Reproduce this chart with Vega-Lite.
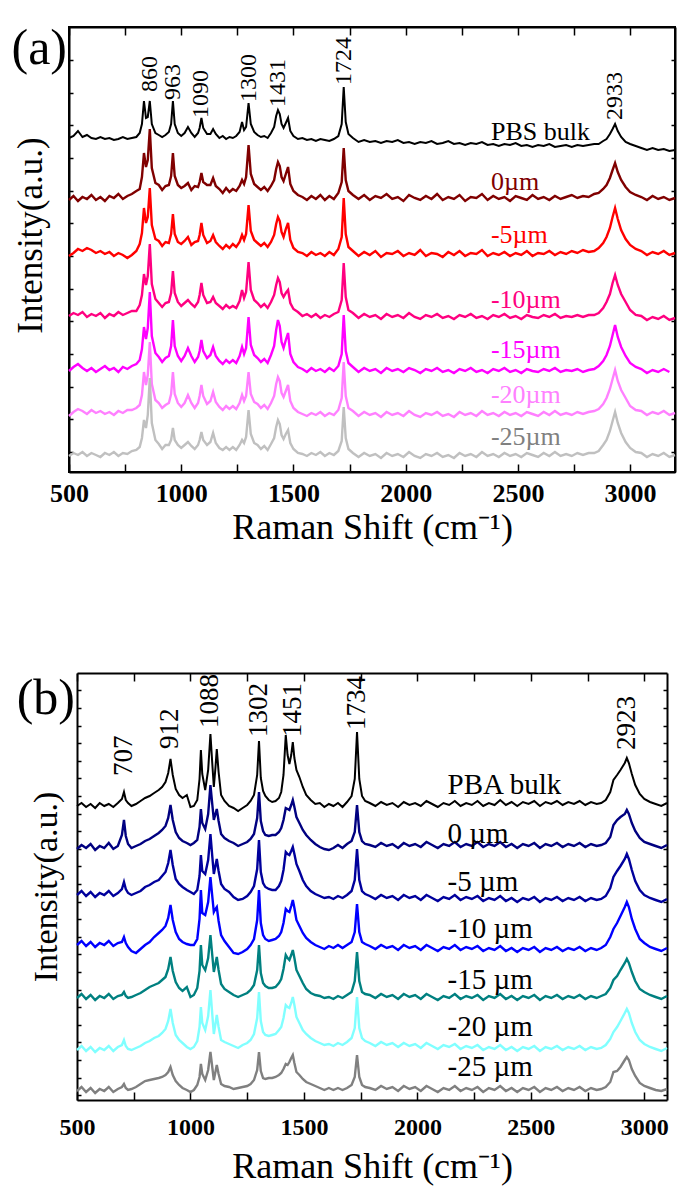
{
"$schema":"https://vega.github.io/schema/vega-lite/v6.json",
"background":"white",
"padding":{"left":10,"top":22,"right":2,"bottom":2},
"config":{
"font":"Liberation Serif",
"view":{"stroke":null},
"axis":{"domainColor":"#000","domainWidth":2,"tickColor":"#000","tickWidth":1.5,"labelColor":"#000","titleColor":"#000","titleFontWeight":"normal","labelFont":"Liberation Serif","titleFont":"Liberation Serif","grid":false},
"line":{"strokeWidth":2.4},
"text":{"font":"Liberation Serif"}
},
"spacing":126,
"datasets":{
"a0":[{"x":500,"y":334},{"x":520,"y":336},{"x":540,"y":341},{"x":560,"y":335},{"x":580,"y":337},{"x":600,"y":334},{"x":620,"y":333},{"x":640,"y":335},{"x":660,"y":333},{"x":680,"y":334},{"x":700,"y":332},{"x":720,"y":333},{"x":740,"y":335},{"x":760,"y":333},{"x":780,"y":334},{"x":800,"y":335},{"x":815,"y":339},{"x":825,"y":348},{"x":834,"y":371},{"x":843,"y":354},{"x":851,"y":355},{"x":860,"y":371},{"x":869,"y":348},{"x":885,"y":339},{"x":900,"y":337},{"x":915,"y":335},{"x":930,"y":337},{"x":945,"y":340},{"x":955,"y":348},{"x":963,"y":371},{"x":971,"y":348},{"x":985,"y":339},{"x":1000,"y":336},{"x":1015,"y":339},{"x":1030,"y":345},{"x":1045,"y":339},{"x":1060,"y":335},{"x":1075,"y":339},{"x":1082,"y":344},{"x":1090,"y":354},{"x":1098,"y":344},{"x":1115,"y":338},{"x":1130,"y":338},{"x":1142,"y":343},{"x":1154,"y":338},{"x":1170,"y":334},{"x":1185,"y":336},{"x":1200,"y":333},{"x":1215,"y":335},{"x":1230,"y":334},{"x":1245,"y":336},{"x":1260,"y":340},{"x":1271,"y":350},{"x":1280,"y":342},{"x":1289,"y":345},{"x":1300,"y":369},{"x":1310,"y":348},{"x":1325,"y":340},{"x":1340,"y":337},{"x":1355,"y":335},{"x":1370,"y":336},{"x":1385,"y":334},{"x":1400,"y":339},{"x":1414,"y":345},{"x":1423,"y":356},{"x":1431,"y":362},{"x":1439,"y":358},{"x":1447,"y":348},{"x":1456,"y":344},{"x":1466,"y":349},{"x":1476,"y":354},{"x":1486,"y":341},{"x":1500,"y":336},{"x":1520,"y":333},{"x":1540,"y":334},{"x":1560,"y":332},{"x":1580,"y":333},{"x":1600,"y":331},{"x":1620,"y":333},{"x":1640,"y":332},{"x":1660,"y":331},{"x":1680,"y":333},{"x":1700,"y":336},{"x":1715,"y":348},{"x":1724,"y":385},{"x":1733,"y":350},{"x":1745,"y":338},{"x":1765,"y":334},{"x":1790,"y":330},{"x":1815,"y":332},{"x":1840,"y":330},{"x":1865,"y":331},{"x":1890,"y":329},{"x":1915,"y":331},{"x":1940,"y":330},{"x":1965,"y":332},{"x":1990,"y":329},{"x":2015,"y":330},{"x":2040,"y":328},{"x":2065,"y":330},{"x":2090,"y":329},{"x":2115,"y":331},{"x":2140,"y":328},{"x":2165,"y":329},{"x":2190,"y":331},{"x":2215,"y":328},{"x":2240,"y":329},{"x":2265,"y":327},{"x":2290,"y":329},{"x":2315,"y":328},{"x":2340,"y":330},{"x":2365,"y":327},{"x":2390,"y":328},{"x":2415,"y":326},{"x":2440,"y":328},{"x":2465,"y":327},{"x":2490,"y":329},{"x":2515,"y":326},{"x":2540,"y":327},{"x":2565,"y":325},{"x":2590,"y":327},{"x":2615,"y":326},{"x":2640,"y":328},{"x":2665,"y":325},{"x":2690,"y":326},{"x":2715,"y":327},{"x":2740,"y":325},{"x":2765,"y":327},{"x":2790,"y":326},{"x":2815,"y":327},{"x":2840,"y":328},{"x":2860,"y":328},{"x":2880,"y":331},{"x":2895,"y":333},{"x":2910,"y":338},{"x":2922,"y":343},{"x":2933,"y":348},{"x":2945,"y":341},{"x":2960,"y":335},{"x":2980,"y":330},{"x":3000,"y":328},{"x":3025,"y":326},{"x":3050,"y":324},{"x":3075,"y":322},{"x":3100,"y":324},{"x":3125,"y":322},{"x":3150,"y":323},{"x":3175,"y":321},{"x":3200,"y":322}],
"a1":[{"x":500,"y":272},{"x":520,"y":276},{"x":540,"y":271},{"x":560,"y":275},{"x":580,"y":273},{"x":600,"y":277},{"x":620,"y":272},{"x":640,"y":275},{"x":660,"y":271},{"x":680,"y":276},{"x":700,"y":274},{"x":720,"y":278},{"x":740,"y":273},{"x":760,"y":276},{"x":780,"y":278},{"x":800,"y":281},{"x":815,"y":283},{"x":825,"y":295},{"x":834,"y":319},{"x":843,"y":305},{"x":851,"y":312},{"x":860,"y":343},{"x":869,"y":304},{"x":885,"y":289},{"x":900,"y":287},{"x":915,"y":282},{"x":930,"y":286},{"x":945,"y":287},{"x":955,"y":296},{"x":963,"y":319},{"x":971,"y":296},{"x":985,"y":287},{"x":1000,"y":284},{"x":1015,"y":286},{"x":1030,"y":289},{"x":1045,"y":282},{"x":1060,"y":286},{"x":1075,"y":285},{"x":1082,"y":290},{"x":1090,"y":299},{"x":1098,"y":290},{"x":1115,"y":287},{"x":1130,"y":287},{"x":1142,"y":294},{"x":1154,"y":286},{"x":1170,"y":283},{"x":1185,"y":279},{"x":1200,"y":284},{"x":1215,"y":280},{"x":1230,"y":283},{"x":1245,"y":281},{"x":1260,"y":286},{"x":1271,"y":292},{"x":1280,"y":288},{"x":1289,"y":295},{"x":1300,"y":327},{"x":1310,"y":298},{"x":1325,"y":288},{"x":1340,"y":285},{"x":1355,"y":282},{"x":1370,"y":285},{"x":1385,"y":281},{"x":1400,"y":286},{"x":1414,"y":292},{"x":1423,"y":303},{"x":1431,"y":310},{"x":1439,"y":306},{"x":1447,"y":295},{"x":1456,"y":291},{"x":1466,"y":298},{"x":1476,"y":305},{"x":1486,"y":288},{"x":1500,"y":281},{"x":1520,"y":277},{"x":1540,"y":275},{"x":1560,"y":272},{"x":1580,"y":276},{"x":1600,"y":273},{"x":1620,"y":277},{"x":1640,"y":272},{"x":1660,"y":276},{"x":1680,"y":273},{"x":1700,"y":279},{"x":1715,"y":290},{"x":1724,"y":324},{"x":1733,"y":292},{"x":1745,"y":281},{"x":1765,"y":277},{"x":1790,"y":273},{"x":1815,"y":277},{"x":1840,"y":272},{"x":1865,"y":276},{"x":1890,"y":274},{"x":1915,"y":278},{"x":1940,"y":273},{"x":1965,"y":275},{"x":1990,"y":271},{"x":2015,"y":277},{"x":2040,"y":274},{"x":2065,"y":272},{"x":2090,"y":276},{"x":2115,"y":273},{"x":2140,"y":278},{"x":2165,"y":272},{"x":2190,"y":275},{"x":2215,"y":273},{"x":2240,"y":277},{"x":2265,"y":271},{"x":2290,"y":275},{"x":2315,"y":274},{"x":2340,"y":278},{"x":2365,"y":272},{"x":2390,"y":276},{"x":2415,"y":273},{"x":2440,"y":275},{"x":2465,"y":271},{"x":2490,"y":276},{"x":2515,"y":274},{"x":2540,"y":272},{"x":2565,"y":277},{"x":2590,"y":273},{"x":2615,"y":275},{"x":2640,"y":272},{"x":2665,"y":276},{"x":2690,"y":273},{"x":2715,"y":275},{"x":2740,"y":277},{"x":2765,"y":274},{"x":2790,"y":276},{"x":2815,"y":275},{"x":2840,"y":278},{"x":2860,"y":279},{"x":2880,"y":283},{"x":2895,"y":287},{"x":2910,"y":294},{"x":2922,"y":302},{"x":2933,"y":309},{"x":2945,"y":300},{"x":2960,"y":292},{"x":2980,"y":285},{"x":3000,"y":280},{"x":3025,"y":277},{"x":3050,"y":275},{"x":3075,"y":272},{"x":3100,"y":276},{"x":3125,"y":273},{"x":3150,"y":275},{"x":3175,"y":272},{"x":3200,"y":274}],
"a2":[{"x":500,"y":216},{"x":520,"y":219},{"x":540,"y":223},{"x":560,"y":221},{"x":580,"y":224},{"x":600,"y":222},{"x":620,"y":219},{"x":640,"y":221},{"x":660,"y":218},{"x":680,"y":220},{"x":700,"y":216},{"x":720,"y":219},{"x":740,"y":217},{"x":760,"y":214},{"x":780,"y":217},{"x":800,"y":221},{"x":815,"y":228},{"x":825,"y":239},{"x":834,"y":264},{"x":843,"y":249},{"x":851,"y":255},{"x":860,"y":284},{"x":869,"y":247},{"x":885,"y":233},{"x":900,"y":231},{"x":915,"y":226},{"x":930,"y":230},{"x":945,"y":229},{"x":955,"y":238},{"x":963,"y":258},{"x":971,"y":238},{"x":985,"y":230},{"x":1000,"y":228},{"x":1015,"y":231},{"x":1030,"y":235},{"x":1045,"y":227},{"x":1060,"y":230},{"x":1075,"y":231},{"x":1082,"y":237},{"x":1090,"y":249},{"x":1098,"y":237},{"x":1115,"y":229},{"x":1130,"y":231},{"x":1142,"y":237},{"x":1154,"y":230},{"x":1170,"y":226},{"x":1185,"y":223},{"x":1200,"y":227},{"x":1215,"y":224},{"x":1230,"y":228},{"x":1245,"y":225},{"x":1260,"y":230},{"x":1271,"y":237},{"x":1280,"y":232},{"x":1289,"y":238},{"x":1300,"y":267},{"x":1310,"y":241},{"x":1325,"y":232},{"x":1340,"y":229},{"x":1355,"y":226},{"x":1370,"y":229},{"x":1385,"y":225},{"x":1400,"y":230},{"x":1414,"y":237},{"x":1423,"y":248},{"x":1431,"y":255},{"x":1439,"y":251},{"x":1447,"y":240},{"x":1456,"y":235},{"x":1466,"y":243},{"x":1476,"y":249},{"x":1486,"y":232},{"x":1500,"y":224},{"x":1520,"y":220},{"x":1540,"y":219},{"x":1560,"y":216},{"x":1580,"y":220},{"x":1600,"y":217},{"x":1620,"y":219},{"x":1640,"y":216},{"x":1660,"y":220},{"x":1680,"y":217},{"x":1700,"y":223},{"x":1715,"y":235},{"x":1724,"y":274},{"x":1733,"y":238},{"x":1745,"y":225},{"x":1765,"y":221},{"x":1790,"y":216},{"x":1815,"y":220},{"x":1840,"y":217},{"x":1865,"y":221},{"x":1890,"y":215},{"x":1915,"y":219},{"x":1940,"y":218},{"x":1965,"y":221},{"x":1990,"y":216},{"x":2015,"y":219},{"x":2040,"y":217},{"x":2065,"y":222},{"x":2090,"y":216},{"x":2115,"y":219},{"x":2140,"y":218},{"x":2165,"y":215},{"x":2190,"y":220},{"x":2215,"y":217},{"x":2240,"y":221},{"x":2265,"y":216},{"x":2290,"y":219},{"x":2315,"y":218},{"x":2340,"y":222},{"x":2365,"y":216},{"x":2390,"y":219},{"x":2415,"y":217},{"x":2440,"y":220},{"x":2465,"y":216},{"x":2490,"y":219},{"x":2515,"y":217},{"x":2540,"y":221},{"x":2565,"y":216},{"x":2590,"y":219},{"x":2615,"y":218},{"x":2640,"y":221},{"x":2665,"y":217},{"x":2690,"y":220},{"x":2715,"y":218},{"x":2740,"y":221},{"x":2765,"y":219},{"x":2790,"y":222},{"x":2815,"y":220},{"x":2840,"y":221},{"x":2860,"y":224},{"x":2880,"y":229},{"x":2895,"y":235},{"x":2910,"y":244},{"x":2922,"y":255},{"x":2933,"y":264},{"x":2945,"y":253},{"x":2960,"y":242},{"x":2980,"y":233},{"x":3000,"y":227},{"x":3025,"y":223},{"x":3050,"y":221},{"x":3075,"y":217},{"x":3100,"y":220},{"x":3125,"y":218},{"x":3150,"y":221},{"x":3175,"y":217},{"x":3200,"y":219}],
"a3":[{"x":500,"y":156},{"x":520,"y":159},{"x":540,"y":157},{"x":560,"y":160},{"x":580,"y":155},{"x":600,"y":158},{"x":620,"y":156},{"x":640,"y":159},{"x":660,"y":154},{"x":680,"y":158},{"x":700,"y":156},{"x":720,"y":160},{"x":740,"y":157},{"x":760,"y":159},{"x":780,"y":161},{"x":800,"y":161},{"x":815,"y":167},{"x":825,"y":177},{"x":834,"y":198},{"x":843,"y":187},{"x":851,"y":196},{"x":860,"y":228},{"x":869,"y":188},{"x":885,"y":173},{"x":900,"y":169},{"x":915,"y":165},{"x":930,"y":169},{"x":945,"y":170},{"x":955,"y":179},{"x":963,"y":201},{"x":971,"y":179},{"x":985,"y":170},{"x":1000,"y":166},{"x":1015,"y":169},{"x":1030,"y":172},{"x":1045,"y":168},{"x":1060,"y":165},{"x":1075,"y":170},{"x":1082,"y":177},{"x":1090,"y":189},{"x":1098,"y":177},{"x":1115,"y":169},{"x":1130,"y":170},{"x":1142,"y":175},{"x":1154,"y":169},{"x":1170,"y":166},{"x":1185,"y":163},{"x":1200,"y":167},{"x":1215,"y":164},{"x":1230,"y":166},{"x":1245,"y":164},{"x":1260,"y":171},{"x":1271,"y":182},{"x":1280,"y":174},{"x":1289,"y":180},{"x":1300,"y":210},{"x":1310,"y":182},{"x":1325,"y":172},{"x":1340,"y":169},{"x":1355,"y":165},{"x":1370,"y":168},{"x":1385,"y":164},{"x":1400,"y":170},{"x":1414,"y":177},{"x":1423,"y":187},{"x":1431,"y":194},{"x":1439,"y":190},{"x":1447,"y":179},{"x":1456,"y":175},{"x":1466,"y":179},{"x":1476,"y":182},{"x":1486,"y":169},{"x":1500,"y":163},{"x":1520,"y":160},{"x":1540,"y":156},{"x":1560,"y":158},{"x":1580,"y":155},{"x":1600,"y":158},{"x":1620,"y":154},{"x":1640,"y":157},{"x":1660,"y":155},{"x":1680,"y":158},{"x":1700,"y":160},{"x":1715,"y":172},{"x":1724,"y":209},{"x":1733,"y":175},{"x":1745,"y":162},{"x":1765,"y":159},{"x":1790,"y":154},{"x":1815,"y":158},{"x":1840,"y":155},{"x":1865,"y":157},{"x":1890,"y":153},{"x":1915,"y":158},{"x":1940,"y":155},{"x":1965,"y":157},{"x":1990,"y":154},{"x":2015,"y":159},{"x":2040,"y":155},{"x":2065,"y":153},{"x":2090,"y":157},{"x":2115,"y":155},{"x":2140,"y":158},{"x":2165,"y":154},{"x":2190,"y":156},{"x":2215,"y":153},{"x":2240,"y":157},{"x":2265,"y":155},{"x":2290,"y":158},{"x":2315,"y":154},{"x":2340,"y":156},{"x":2365,"y":153},{"x":2390,"y":157},{"x":2415,"y":155},{"x":2440,"y":158},{"x":2465,"y":154},{"x":2490,"y":156},{"x":2515,"y":153},{"x":2540,"y":157},{"x":2565,"y":155},{"x":2590,"y":154},{"x":2615,"y":157},{"x":2640,"y":155},{"x":2665,"y":158},{"x":2690,"y":154},{"x":2715,"y":156},{"x":2740,"y":155},{"x":2765,"y":157},{"x":2790,"y":155},{"x":2815,"y":157},{"x":2840,"y":157},{"x":2860,"y":159},{"x":2880,"y":164},{"x":2895,"y":170},{"x":2910,"y":178},{"x":2922,"y":189},{"x":2933,"y":197},{"x":2945,"y":187},{"x":2960,"y":178},{"x":2980,"y":170},{"x":3000,"y":162},{"x":3025,"y":157},{"x":3050,"y":156},{"x":3075,"y":152},{"x":3100,"y":155},{"x":3125,"y":153},{"x":3150,"y":156},{"x":3175,"y":152},{"x":3200,"y":154}],
"a4":[{"x":500,"y":101},{"x":520,"y":105},{"x":540,"y":108},{"x":560,"y":104},{"x":580,"y":101},{"x":600,"y":104},{"x":620,"y":100},{"x":640,"y":103},{"x":660,"y":106},{"x":680,"y":102},{"x":700,"y":104},{"x":720,"y":100},{"x":740,"y":105},{"x":760,"y":103},{"x":780,"y":106},{"x":800,"y":108},{"x":815,"y":112},{"x":825,"y":123},{"x":834,"y":145},{"x":843,"y":133},{"x":851,"y":144},{"x":860,"y":180},{"x":869,"y":136},{"x":885,"y":119},{"x":900,"y":115},{"x":915,"y":110},{"x":930,"y":114},{"x":945,"y":116},{"x":955,"y":126},{"x":963,"y":152},{"x":971,"y":126},{"x":985,"y":116},{"x":1000,"y":111},{"x":1015,"y":116},{"x":1030,"y":124},{"x":1045,"y":116},{"x":1060,"y":110},{"x":1075,"y":115},{"x":1082,"y":121},{"x":1090,"y":132},{"x":1098,"y":121},{"x":1115,"y":114},{"x":1130,"y":117},{"x":1142,"y":125},{"x":1154,"y":116},{"x":1170,"y":111},{"x":1185,"y":108},{"x":1200,"y":112},{"x":1215,"y":109},{"x":1230,"y":112},{"x":1245,"y":109},{"x":1260,"y":116},{"x":1271,"y":125},{"x":1280,"y":118},{"x":1289,"y":124},{"x":1300,"y":155},{"x":1310,"y":127},{"x":1325,"y":117},{"x":1340,"y":114},{"x":1355,"y":110},{"x":1370,"y":113},{"x":1385,"y":109},{"x":1400,"y":117},{"x":1414,"y":126},{"x":1423,"y":142},{"x":1431,"y":152},{"x":1439,"y":146},{"x":1447,"y":130},{"x":1456,"y":124},{"x":1466,"y":132},{"x":1476,"y":139},{"x":1486,"y":118},{"x":1500,"y":110},{"x":1520,"y":105},{"x":1540,"y":103},{"x":1560,"y":100},{"x":1580,"y":104},{"x":1600,"y":101},{"x":1620,"y":103},{"x":1640,"y":100},{"x":1660,"y":104},{"x":1680,"y":101},{"x":1700,"y":106},{"x":1715,"y":118},{"x":1724,"y":157},{"x":1733,"y":121},{"x":1745,"y":109},{"x":1765,"y":105},{"x":1790,"y":100},{"x":1815,"y":104},{"x":1840,"y":101},{"x":1865,"y":103},{"x":1890,"y":99},{"x":1915,"y":104},{"x":1940,"y":101},{"x":1965,"y":103},{"x":1990,"y":100},{"x":2015,"y":104},{"x":2040,"y":102},{"x":2065,"y":99},{"x":2090,"y":103},{"x":2115,"y":101},{"x":2140,"y":104},{"x":2165,"y":100},{"x":2190,"y":102},{"x":2215,"y":99},{"x":2240,"y":103},{"x":2265,"y":101},{"x":2290,"y":104},{"x":2315,"y":100},{"x":2340,"y":102},{"x":2365,"y":99},{"x":2390,"y":103},{"x":2415,"y":101},{"x":2440,"y":104},{"x":2465,"y":100},{"x":2490,"y":102},{"x":2515,"y":99},{"x":2540,"y":103},{"x":2565,"y":101},{"x":2590,"y":100},{"x":2615,"y":103},{"x":2640,"y":101},{"x":2665,"y":104},{"x":2690,"y":100},{"x":2715,"y":102},{"x":2740,"y":101},{"x":2765,"y":103},{"x":2790,"y":100},{"x":2815,"y":102},{"x":2840,"y":103},{"x":2860,"y":106},{"x":2880,"y":111},{"x":2895,"y":117},{"x":2910,"y":126},{"x":2922,"y":137},{"x":2933,"y":147},{"x":2945,"y":135},{"x":2960,"y":125},{"x":2980,"y":116},{"x":3000,"y":109},{"x":3025,"y":105},{"x":3050,"y":103},{"x":3075,"y":99},{"x":3100,"y":102},{"x":3125,"y":100},{"x":3150,"y":103},{"x":3175,"y":100}],
"a5":[{"x":500,"y":56},{"x":520,"y":60},{"x":540,"y":63},{"x":560,"y":61},{"x":580,"y":58},{"x":600,"y":62},{"x":620,"y":59},{"x":640,"y":61},{"x":660,"y":58},{"x":680,"y":60},{"x":700,"y":57},{"x":720,"y":61},{"x":740,"y":59},{"x":760,"y":62},{"x":780,"y":62},{"x":800,"y":64},{"x":815,"y":67},{"x":825,"y":77},{"x":834,"y":100},{"x":843,"y":87},{"x":851,"y":97},{"x":860,"y":130},{"x":869,"y":88},{"x":885,"y":72},{"x":900,"y":69},{"x":915,"y":64},{"x":930,"y":67},{"x":945,"y":69},{"x":955,"y":78},{"x":963,"y":100},{"x":971,"y":78},{"x":985,"y":69},{"x":1000,"y":65},{"x":1015,"y":69},{"x":1030,"y":77},{"x":1045,"y":69},{"x":1060,"y":64},{"x":1075,"y":69},{"x":1082,"y":76},{"x":1090,"y":87},{"x":1098,"y":76},{"x":1115,"y":68},{"x":1130,"y":71},{"x":1142,"y":80},{"x":1154,"y":70},{"x":1170,"y":65},{"x":1185,"y":62},{"x":1200,"y":66},{"x":1215,"y":63},{"x":1230,"y":66},{"x":1245,"y":63},{"x":1260,"y":69},{"x":1271,"y":77},{"x":1280,"y":71},{"x":1289,"y":76},{"x":1300,"y":100},{"x":1310,"y":78},{"x":1325,"y":70},{"x":1340,"y":68},{"x":1355,"y":64},{"x":1370,"y":67},{"x":1385,"y":63},{"x":1400,"y":69},{"x":1414,"y":76},{"x":1423,"y":88},{"x":1431,"y":95},{"x":1439,"y":91},{"x":1447,"y":79},{"x":1456,"y":75},{"x":1466,"y":81},{"x":1476,"y":87},{"x":1486,"y":71},{"x":1500,"y":64},{"x":1520,"y":60},{"x":1540,"y":58},{"x":1560,"y":56},{"x":1580,"y":59},{"x":1600,"y":57},{"x":1620,"y":60},{"x":1640,"y":56},{"x":1660,"y":59},{"x":1680,"y":57},{"x":1700,"y":62},{"x":1715,"y":74},{"x":1724,"y":110},{"x":1733,"y":76},{"x":1745,"y":64},{"x":1765,"y":61},{"x":1790,"y":56},{"x":1815,"y":60},{"x":1840,"y":57},{"x":1865,"y":59},{"x":1890,"y":55},{"x":1915,"y":60},{"x":1940,"y":57},{"x":1965,"y":59},{"x":1990,"y":56},{"x":2015,"y":61},{"x":2040,"y":57},{"x":2065,"y":55},{"x":2090,"y":59},{"x":2115,"y":57},{"x":2140,"y":60},{"x":2165,"y":56},{"x":2190,"y":58},{"x":2215,"y":55},{"x":2240,"y":60},{"x":2265,"y":57},{"x":2290,"y":59},{"x":2315,"y":56},{"x":2340,"y":61},{"x":2365,"y":57},{"x":2390,"y":59},{"x":2415,"y":56},{"x":2440,"y":60},{"x":2465,"y":57},{"x":2490,"y":59},{"x":2515,"y":56},{"x":2540,"y":60},{"x":2565,"y":58},{"x":2590,"y":56},{"x":2615,"y":60},{"x":2640,"y":57},{"x":2665,"y":61},{"x":2690,"y":57},{"x":2715,"y":59},{"x":2740,"y":57},{"x":2765,"y":60},{"x":2790,"y":58},{"x":2815,"y":60},{"x":2840,"y":61},{"x":2860,"y":63},{"x":2880,"y":68},{"x":2895,"y":74},{"x":2910,"y":83},{"x":2922,"y":93},{"x":2933,"y":102},{"x":2945,"y":91},{"x":2960,"y":82},{"x":2980,"y":74},{"x":3000,"y":66},{"x":3025,"y":62},{"x":3050,"y":61},{"x":3075,"y":57},{"x":3100,"y":60},{"x":3125,"y":58},{"x":3150,"y":61},{"x":3175,"y":57},{"x":3200,"y":59}],
"a6":[{"x":500,"y":16},{"x":520,"y":19},{"x":540,"y":17},{"x":560,"y":20},{"x":580,"y":16},{"x":600,"y":19},{"x":620,"y":17},{"x":640,"y":15},{"x":660,"y":19},{"x":680,"y":17},{"x":700,"y":20},{"x":720,"y":16},{"x":740,"y":19},{"x":760,"y":18},{"x":780,"y":21},{"x":800,"y":22},{"x":815,"y":25},{"x":825,"y":34},{"x":834,"y":52},{"x":843,"y":44},{"x":851,"y":57},{"x":860,"y":94},{"x":869,"y":49},{"x":885,"y":32},{"x":900,"y":28},{"x":915,"y":23},{"x":930,"y":27},{"x":945,"y":27},{"x":955,"y":32},{"x":963,"y":44},{"x":971,"y":32},{"x":985,"y":27},{"x":1000,"y":24},{"x":1015,"y":27},{"x":1030,"y":30},{"x":1045,"y":26},{"x":1060,"y":23},{"x":1075,"y":27},{"x":1082,"y":32},{"x":1090,"y":40},{"x":1098,"y":32},{"x":1115,"y":27},{"x":1130,"y":30},{"x":1142,"y":39},{"x":1154,"y":29},{"x":1170,"y":24},{"x":1185,"y":22},{"x":1200,"y":25},{"x":1215,"y":22},{"x":1230,"y":25},{"x":1245,"y":22},{"x":1260,"y":27},{"x":1271,"y":32},{"x":1280,"y":29},{"x":1289,"y":35},{"x":1300,"y":62},{"x":1310,"y":38},{"x":1325,"y":29},{"x":1340,"y":27},{"x":1355,"y":23},{"x":1370,"y":26},{"x":1385,"y":22},{"x":1400,"y":28},{"x":1414,"y":34},{"x":1423,"y":45},{"x":1431,"y":52},{"x":1439,"y":48},{"x":1447,"y":37},{"x":1456,"y":33},{"x":1466,"y":38},{"x":1476,"y":42},{"x":1486,"y":29},{"x":1500,"y":23},{"x":1520,"y":19},{"x":1540,"y":18},{"x":1560,"y":16},{"x":1580,"y":19},{"x":1600,"y":17},{"x":1620,"y":20},{"x":1640,"y":16},{"x":1660,"y":19},{"x":1680,"y":17},{"x":1700,"y":21},{"x":1715,"y":31},{"x":1724,"y":65},{"x":1733,"y":34},{"x":1745,"y":23},{"x":1765,"y":19},{"x":1790,"y":15},{"x":1815,"y":19},{"x":1840,"y":16},{"x":1865,"y":18},{"x":1890,"y":14},{"x":1915,"y":19},{"x":1940,"y":16},{"x":1965,"y":18},{"x":1990,"y":15},{"x":2015,"y":20},{"x":2040,"y":16},{"x":2065,"y":14},{"x":2090,"y":18},{"x":2115,"y":16},{"x":2140,"y":19},{"x":2165,"y":15},{"x":2190,"y":17},{"x":2215,"y":14},{"x":2240,"y":19},{"x":2265,"y":16},{"x":2290,"y":18},{"x":2315,"y":15},{"x":2340,"y":20},{"x":2365,"y":16},{"x":2390,"y":18},{"x":2415,"y":15},{"x":2440,"y":19},{"x":2465,"y":16},{"x":2490,"y":18},{"x":2515,"y":15},{"x":2540,"y":19},{"x":2565,"y":17},{"x":2590,"y":15},{"x":2615,"y":19},{"x":2640,"y":16},{"x":2665,"y":20},{"x":2690,"y":16},{"x":2715,"y":18},{"x":2740,"y":16},{"x":2765,"y":19},{"x":2790,"y":17},{"x":2815,"y":19},{"x":2840,"y":19},{"x":2860,"y":21},{"x":2880,"y":27},{"x":2895,"y":32},{"x":2910,"y":41},{"x":2922,"y":51},{"x":2933,"y":60},{"x":2945,"y":49},{"x":2960,"y":39},{"x":2980,"y":30},{"x":3000,"y":24},{"x":3025,"y":20},{"x":3050,"y":19},{"x":3075,"y":15},{"x":3100,"y":18},{"x":3125,"y":16},{"x":3150,"y":19},{"x":3175,"y":15},{"x":3200,"y":17}],
"b0":[{"x":500,"y":294},{"x":520,"y":297},{"x":540,"y":293},{"x":560,"y":296},{"x":580,"y":292},{"x":600,"y":297},{"x":620,"y":294},{"x":640,"y":296},{"x":660,"y":293},{"x":680,"y":297},{"x":698,"y":301},{"x":707,"y":308},{"x":715,"y":300},{"x":725,"y":297},{"x":740,"y":294},{"x":760,"y":296},{"x":780,"y":299},{"x":800,"y":302},{"x":820,"y":304},{"x":840,"y":307},{"x":860,"y":310},{"x":875,"y":313},{"x":890,"y":318},{"x":902,"y":327},{"x":912,"y":341},{"x":922,"y":325},{"x":935,"y":311},{"x":950,"y":305},{"x":965,"y":302},{"x":984,"y":305},{"x":1000,"y":293},{"x":1015,"y":294},{"x":1030,"y":300},{"x":1040,"y":321},{"x":1046,"y":350},{"x":1052,"y":326},{"x":1065,"y":310},{"x":1078,"y":330},{"x":1088,"y":366},{"x":1096,"y":337},{"x":1103,"y":313},{"x":1110,"y":332},{"x":1116,"y":351},{"x":1124,"y":328},{"x":1135,"y":305},{"x":1150,"y":299},{"x":1170,"y":294},{"x":1190,"y":292},{"x":1210,"y":289},{"x":1230,"y":292},{"x":1250,"y":295},{"x":1265,"y":299},{"x":1280,"y":305},{"x":1294,"y":325},{"x":1302,"y":359},{"x":1310,"y":322},{"x":1320,"y":309},{"x":1330,"y":304},{"x":1345,"y":300},{"x":1360,"y":298},{"x":1375,"y":299},{"x":1390,"y":302},{"x":1400,"y":308},{"x":1410,"y":325},{"x":1420,"y":365},{"x":1428,"y":345},{"x":1436,"y":336},{"x":1444,"y":345},{"x":1451,"y":358},{"x":1458,"y":342},{"x":1467,"y":330},{"x":1480,"y":323},{"x":1495,"y":313},{"x":1510,"y":305},{"x":1530,"y":300},{"x":1550,"y":296},{"x":1570,"y":297},{"x":1590,"y":293},{"x":1610,"y":296},{"x":1630,"y":294},{"x":1650,"y":297},{"x":1670,"y":293},{"x":1690,"y":298},{"x":1710,"y":304},{"x":1724,"y":321},{"x":1734,"y":368},{"x":1744,"y":321},{"x":1756,"y":304},{"x":1770,"y":299},{"x":1790,"y":297},{"x":1815,"y":294},{"x":1840,"y":298},{"x":1865,"y":295},{"x":1890,"y":297},{"x":1915,"y":293},{"x":1940,"y":298},{"x":1965,"y":295},{"x":1990,"y":297},{"x":2015,"y":294},{"x":2040,"y":299},{"x":2065,"y":296},{"x":2090,"y":293},{"x":2115,"y":297},{"x":2140,"y":295},{"x":2165,"y":299},{"x":2190,"y":294},{"x":2215,"y":297},{"x":2240,"y":295},{"x":2265,"y":299},{"x":2290,"y":294},{"x":2315,"y":297},{"x":2340,"y":295},{"x":2365,"y":300},{"x":2390,"y":295},{"x":2415,"y":298},{"x":2440,"y":294},{"x":2465,"y":298},{"x":2490,"y":296},{"x":2515,"y":299},{"x":2540,"y":294},{"x":2565,"y":298},{"x":2590,"y":296},{"x":2615,"y":299},{"x":2640,"y":295},{"x":2665,"y":298},{"x":2690,"y":296},{"x":2715,"y":299},{"x":2740,"y":295},{"x":2765,"y":298},{"x":2790,"y":296},{"x":2810,"y":297},{"x":2830,"y":300},{"x":2850,"y":308},{"x":2864,"y":320},{"x":2880,"y":325},{"x":2895,"y":330},{"x":2914,"y":337},{"x":2923,"y":342},{"x":2932,"y":337},{"x":2945,"y":326},{"x":2960,"y":315},{"x":2980,"y":306},{"x":3000,"y":301},{"x":3025,"y":298},{"x":3050,"y":296},{"x":3075,"y":294},{"x":3100,"y":297}],
"b1":[{"x":500,"y":251},{"x":520,"y":255},{"x":540,"y":252},{"x":560,"y":256},{"x":580,"y":250},{"x":600,"y":254},{"x":620,"y":252},{"x":640,"y":257},{"x":660,"y":251},{"x":680,"y":254},{"x":698,"y":265},{"x":707,"y":280},{"x":715,"y":264},{"x":725,"y":256},{"x":740,"y":252},{"x":760,"y":254},{"x":780,"y":256},{"x":800,"y":259},{"x":820,"y":261},{"x":840,"y":264},{"x":860,"y":267},{"x":875,"y":270},{"x":890,"y":274},{"x":902,"y":282},{"x":912,"y":295},{"x":922,"y":280},{"x":935,"y":268},{"x":950,"y":262},{"x":965,"y":259},{"x":984,"y":257},{"x":1000,"y":255},{"x":1015,"y":257},{"x":1030,"y":260},{"x":1040,"y":273},{"x":1046,"y":291},{"x":1052,"y":277},{"x":1065,"y":271},{"x":1078,"y":286},{"x":1088,"y":315},{"x":1096,"y":296},{"x":1103,"y":280},{"x":1110,"y":286},{"x":1116,"y":291},{"x":1124,"y":279},{"x":1135,"y":266},{"x":1150,"y":262},{"x":1170,"y":259},{"x":1190,"y":257},{"x":1210,"y":254},{"x":1230,"y":256},{"x":1250,"y":258},{"x":1265,"y":261},{"x":1280,"y":266},{"x":1294,"y":282},{"x":1302,"y":308},{"x":1310,"y":279},{"x":1320,"y":269},{"x":1330,"y":265},{"x":1345,"y":264},{"x":1360,"y":265},{"x":1375,"y":265},{"x":1390,"y":268},{"x":1400,"y":272},{"x":1410,"y":280},{"x":1420,"y":292},{"x":1428,"y":291},{"x":1436,"y":290},{"x":1444,"y":295},{"x":1451,"y":300},{"x":1458,"y":293},{"x":1467,"y":283},{"x":1480,"y":277},{"x":1495,"y":270},{"x":1510,"y":265},{"x":1530,"y":260},{"x":1550,"y":256},{"x":1570,"y":253},{"x":1590,"y":251},{"x":1610,"y":250},{"x":1630,"y":252},{"x":1650,"y":255},{"x":1670,"y":252},{"x":1690,"y":256},{"x":1710,"y":259},{"x":1724,"y":268},{"x":1734,"y":295},{"x":1744,"y":268},{"x":1756,"y":259},{"x":1770,"y":256},{"x":1790,"y":255},{"x":1815,"y":253},{"x":1840,"y":257},{"x":1865,"y":254},{"x":1890,"y":256},{"x":1915,"y":252},{"x":1940,"y":257},{"x":1965,"y":254},{"x":1990,"y":256},{"x":2015,"y":253},{"x":2040,"y":258},{"x":2065,"y":255},{"x":2090,"y":252},{"x":2115,"y":256},{"x":2140,"y":254},{"x":2165,"y":258},{"x":2190,"y":253},{"x":2215,"y":256},{"x":2240,"y":254},{"x":2265,"y":258},{"x":2290,"y":253},{"x":2315,"y":256},{"x":2340,"y":254},{"x":2365,"y":258},{"x":2390,"y":253},{"x":2415,"y":256},{"x":2440,"y":252},{"x":2465,"y":256},{"x":2490,"y":254},{"x":2515,"y":257},{"x":2540,"y":252},{"x":2565,"y":256},{"x":2590,"y":254},{"x":2615,"y":257},{"x":2640,"y":253},{"x":2665,"y":256},{"x":2690,"y":254},{"x":2715,"y":257},{"x":2740,"y":253},{"x":2765,"y":256},{"x":2790,"y":254},{"x":2810,"y":255},{"x":2830,"y":257},{"x":2850,"y":263},{"x":2864,"y":275},{"x":2880,"y":280},{"x":2895,"y":283},{"x":2914,"y":286},{"x":2923,"y":290},{"x":2932,"y":286},{"x":2945,"y":277},{"x":2960,"y":269},{"x":2980,"y":262},{"x":3000,"y":258},{"x":3025,"y":256},{"x":3050,"y":254},{"x":3075,"y":252},{"x":3100,"y":255}],
"b2":[{"x":500,"y":205},{"x":520,"y":209},{"x":540,"y":204},{"x":560,"y":208},{"x":580,"y":203},{"x":600,"y":207},{"x":620,"y":205},{"x":640,"y":209},{"x":660,"y":204},{"x":680,"y":207},{"x":698,"y":211},{"x":707,"y":218},{"x":715,"y":211},{"x":725,"y":207},{"x":740,"y":205},{"x":760,"y":207},{"x":780,"y":209},{"x":800,"y":213},{"x":820,"y":215},{"x":840,"y":218},{"x":860,"y":220},{"x":875,"y":224},{"x":890,"y":228},{"x":902,"y":237},{"x":912,"y":250},{"x":922,"y":235},{"x":935,"y":221},{"x":950,"y":216},{"x":965,"y":213},{"x":984,"y":210},{"x":1000,"y":208},{"x":1015,"y":206},{"x":1030,"y":210},{"x":1040,"y":224},{"x":1046,"y":245},{"x":1052,"y":229},{"x":1065,"y":226},{"x":1078,"y":240},{"x":1088,"y":266},{"x":1096,"y":244},{"x":1103,"y":226},{"x":1110,"y":234},{"x":1116,"y":241},{"x":1124,"y":229},{"x":1135,"y":216},{"x":1150,"y":211},{"x":1170,"y":208},{"x":1190,"y":203},{"x":1210,"y":200},{"x":1230,"y":201},{"x":1250,"y":204},{"x":1265,"y":208},{"x":1280,"y":214},{"x":1294,"y":231},{"x":1302,"y":260},{"x":1310,"y":228},{"x":1320,"y":217},{"x":1330,"y":213},{"x":1345,"y":211},{"x":1360,"y":210},{"x":1375,"y":210},{"x":1390,"y":214},{"x":1400,"y":219},{"x":1410,"y":230},{"x":1420,"y":248},{"x":1428,"y":246},{"x":1436,"y":245},{"x":1444,"y":249},{"x":1451,"y":253},{"x":1458,"y":246},{"x":1467,"y":236},{"x":1480,"y":229},{"x":1495,"y":220},{"x":1510,"y":214},{"x":1530,"y":209},{"x":1550,"y":206},{"x":1570,"y":204},{"x":1590,"y":202},{"x":1610,"y":203},{"x":1630,"y":201},{"x":1650,"y":204},{"x":1670,"y":202},{"x":1690,"y":205},{"x":1710,"y":209},{"x":1724,"y":220},{"x":1734,"y":251},{"x":1744,"y":220},{"x":1756,"y":209},{"x":1770,"y":206},{"x":1790,"y":204},{"x":1815,"y":201},{"x":1840,"y":205},{"x":1865,"y":202},{"x":1890,"y":204},{"x":1915,"y":200},{"x":1940,"y":205},{"x":1965,"y":202},{"x":1990,"y":204},{"x":2015,"y":200},{"x":2040,"y":205},{"x":2065,"y":202},{"x":2090,"y":199},{"x":2115,"y":203},{"x":2140,"y":201},{"x":2165,"y":205},{"x":2190,"y":200},{"x":2215,"y":203},{"x":2240,"y":201},{"x":2265,"y":204},{"x":2290,"y":199},{"x":2315,"y":202},{"x":2340,"y":200},{"x":2365,"y":204},{"x":2390,"y":199},{"x":2415,"y":202},{"x":2440,"y":198},{"x":2465,"y":202},{"x":2490,"y":200},{"x":2515,"y":203},{"x":2540,"y":198},{"x":2565,"y":202},{"x":2590,"y":200},{"x":2615,"y":203},{"x":2640,"y":199},{"x":2665,"y":202},{"x":2690,"y":200},{"x":2715,"y":203},{"x":2740,"y":199},{"x":2765,"y":202},{"x":2790,"y":200},{"x":2810,"y":201},{"x":2830,"y":204},{"x":2850,"y":212},{"x":2864,"y":223},{"x":2880,"y":229},{"x":2895,"y":234},{"x":2914,"y":241},{"x":2923,"y":246},{"x":2932,"y":241},{"x":2945,"y":230},{"x":2960,"y":219},{"x":2980,"y":210},{"x":3000,"y":205},{"x":3025,"y":202},{"x":3050,"y":200},{"x":3075,"y":198},{"x":3100,"y":201}],
"b3":[{"x":500,"y":155},{"x":520,"y":159},{"x":540,"y":154},{"x":560,"y":158},{"x":580,"y":153},{"x":600,"y":157},{"x":620,"y":155},{"x":640,"y":159},{"x":660,"y":154},{"x":680,"y":157},{"x":698,"y":158},{"x":707,"y":163},{"x":715,"y":157},{"x":725,"y":153},{"x":740,"y":149},{"x":760,"y":147},{"x":780,"y":151},{"x":800,"y":155},{"x":820,"y":158},{"x":840,"y":163},{"x":860,"y":167},{"x":875,"y":170},{"x":890,"y":174},{"x":902,"y":182},{"x":912,"y":195},{"x":922,"y":180},{"x":935,"y":168},{"x":950,"y":161},{"x":965,"y":158},{"x":984,"y":156},{"x":1000,"y":155},{"x":1015,"y":155},{"x":1030,"y":161},{"x":1040,"y":181},{"x":1046,"y":210},{"x":1052,"y":187},{"x":1065,"y":185},{"x":1078,"y":198},{"x":1088,"y":223},{"x":1096,"y":204},{"x":1103,"y":188},{"x":1110,"y":191},{"x":1116,"y":193},{"x":1124,"y":179},{"x":1135,"y":165},{"x":1150,"y":159},{"x":1170,"y":153},{"x":1190,"y":147},{"x":1210,"y":146},{"x":1230,"y":148},{"x":1250,"y":151},{"x":1265,"y":155},{"x":1280,"y":161},{"x":1294,"y":180},{"x":1302,"y":210},{"x":1310,"y":177},{"x":1320,"y":165},{"x":1330,"y":161},{"x":1345,"y":159},{"x":1360,"y":160},{"x":1375,"y":161},{"x":1390,"y":164},{"x":1400,"y":168},{"x":1410,"y":177},{"x":1420,"y":191},{"x":1428,"y":189},{"x":1436,"y":188},{"x":1444,"y":194},{"x":1451,"y":200},{"x":1458,"y":192},{"x":1467,"y":180},{"x":1480,"y":174},{"x":1495,"y":167},{"x":1510,"y":162},{"x":1530,"y":158},{"x":1550,"y":155},{"x":1570,"y":153},{"x":1590,"y":151},{"x":1610,"y":154},{"x":1630,"y":152},{"x":1650,"y":155},{"x":1670,"y":152},{"x":1690,"y":155},{"x":1710,"y":158},{"x":1724,"y":168},{"x":1734,"y":196},{"x":1744,"y":168},{"x":1756,"y":158},{"x":1770,"y":156},{"x":1790,"y":154},{"x":1815,"y":151},{"x":1840,"y":155},{"x":1865,"y":152},{"x":1890,"y":154},{"x":1915,"y":150},{"x":1940,"y":155},{"x":1965,"y":152},{"x":1990,"y":154},{"x":2015,"y":150},{"x":2040,"y":155},{"x":2065,"y":152},{"x":2090,"y":149},{"x":2115,"y":153},{"x":2140,"y":151},{"x":2165,"y":155},{"x":2190,"y":150},{"x":2215,"y":153},{"x":2240,"y":151},{"x":2265,"y":154},{"x":2290,"y":149},{"x":2315,"y":152},{"x":2340,"y":150},{"x":2365,"y":154},{"x":2390,"y":149},{"x":2415,"y":152},{"x":2440,"y":148},{"x":2465,"y":152},{"x":2490,"y":150},{"x":2515,"y":153},{"x":2540,"y":148},{"x":2565,"y":152},{"x":2590,"y":150},{"x":2615,"y":153},{"x":2640,"y":149},{"x":2665,"y":152},{"x":2690,"y":150},{"x":2715,"y":153},{"x":2740,"y":149},{"x":2765,"y":152},{"x":2790,"y":150},{"x":2810,"y":152},{"x":2830,"y":155},{"x":2850,"y":163},{"x":2864,"y":171},{"x":2880,"y":177},{"x":2895,"y":184},{"x":2914,"y":193},{"x":2923,"y":198},{"x":2932,"y":193},{"x":2945,"y":181},{"x":2960,"y":171},{"x":2980,"y":161},{"x":3000,"y":157},{"x":3025,"y":153},{"x":3050,"y":151},{"x":3075,"y":149},{"x":3100,"y":152}],
"b4":[{"x":500,"y":102},{"x":520,"y":106},{"x":540,"y":101},{"x":560,"y":105},{"x":580,"y":100},{"x":600,"y":104},{"x":620,"y":102},{"x":640,"y":106},{"x":660,"y":101},{"x":680,"y":104},{"x":698,"y":105},{"x":707,"y":108},{"x":715,"y":104},{"x":725,"y":102},{"x":740,"y":103},{"x":760,"y":105},{"x":780,"y":107},{"x":800,"y":110},{"x":820,"y":113},{"x":840,"y":115},{"x":860,"y":117},{"x":875,"y":120},{"x":890,"y":123},{"x":902,"y":131},{"x":912,"y":143},{"x":922,"y":129},{"x":935,"y":118},{"x":950,"y":112},{"x":965,"y":109},{"x":984,"y":113},{"x":1000,"y":103},{"x":1015,"y":105},{"x":1030,"y":112},{"x":1040,"y":129},{"x":1046,"y":155},{"x":1052,"y":135},{"x":1065,"y":130},{"x":1078,"y":142},{"x":1088,"y":165},{"x":1096,"y":145},{"x":1103,"y":128},{"x":1110,"y":136},{"x":1116,"y":143},{"x":1124,"y":130},{"x":1135,"y":116},{"x":1150,"y":111},{"x":1170,"y":108},{"x":1190,"y":105},{"x":1210,"y":103},{"x":1230,"y":105},{"x":1250,"y":107},{"x":1265,"y":110},{"x":1280,"y":115},{"x":1294,"y":130},{"x":1302,"y":155},{"x":1310,"y":127},{"x":1320,"y":117},{"x":1330,"y":114},{"x":1345,"y":112},{"x":1360,"y":112},{"x":1375,"y":113},{"x":1390,"y":117},{"x":1400,"y":121},{"x":1410,"y":131},{"x":1420,"y":145},{"x":1428,"y":142},{"x":1436,"y":140},{"x":1444,"y":145},{"x":1451,"y":150},{"x":1458,"y":142},{"x":1467,"y":130},{"x":1480,"y":124},{"x":1495,"y":117},{"x":1510,"y":111},{"x":1530,"y":107},{"x":1550,"y":105},{"x":1570,"y":104},{"x":1590,"y":102},{"x":1610,"y":103},{"x":1630,"y":101},{"x":1650,"y":104},{"x":1670,"y":102},{"x":1690,"y":105},{"x":1710,"y":108},{"x":1724,"y":119},{"x":1734,"y":148},{"x":1744,"y":119},{"x":1756,"y":108},{"x":1770,"y":106},{"x":1790,"y":105},{"x":1815,"y":102},{"x":1840,"y":106},{"x":1865,"y":103},{"x":1890,"y":105},{"x":1915,"y":101},{"x":1940,"y":106},{"x":1965,"y":103},{"x":1990,"y":105},{"x":2015,"y":101},{"x":2040,"y":106},{"x":2065,"y":103},{"x":2090,"y":100},{"x":2115,"y":104},{"x":2140,"y":102},{"x":2165,"y":106},{"x":2190,"y":101},{"x":2215,"y":104},{"x":2240,"y":102},{"x":2265,"y":105},{"x":2290,"y":100},{"x":2315,"y":104},{"x":2340,"y":102},{"x":2365,"y":106},{"x":2390,"y":101},{"x":2415,"y":104},{"x":2440,"y":100},{"x":2465,"y":104},{"x":2490,"y":102},{"x":2515,"y":105},{"x":2540,"y":100},{"x":2565,"y":104},{"x":2590,"y":102},{"x":2615,"y":105},{"x":2640,"y":101},{"x":2665,"y":104},{"x":2690,"y":102},{"x":2715,"y":105},{"x":2740,"y":101},{"x":2765,"y":104},{"x":2790,"y":102},{"x":2810,"y":104},{"x":2830,"y":106},{"x":2850,"y":112},{"x":2864,"y":120},{"x":2880,"y":124},{"x":2895,"y":130},{"x":2914,"y":137},{"x":2923,"y":141},{"x":2932,"y":137},{"x":2945,"y":128},{"x":2960,"y":119},{"x":2980,"y":111},{"x":3000,"y":108},{"x":3025,"y":105},{"x":3050,"y":103},{"x":3075,"y":101},{"x":3100,"y":104}],
"b5":[{"x":500,"y":50},{"x":520,"y":54},{"x":540,"y":49},{"x":560,"y":53},{"x":580,"y":48},{"x":600,"y":52},{"x":620,"y":50},{"x":640,"y":54},{"x":660,"y":49},{"x":680,"y":53},{"x":698,"y":55},{"x":707,"y":60},{"x":715,"y":54},{"x":725,"y":51},{"x":740,"y":50},{"x":760,"y":52},{"x":780,"y":54},{"x":800,"y":57},{"x":820,"y":59},{"x":840,"y":62},{"x":860,"y":64},{"x":875,"y":67},{"x":890,"y":71},{"x":902,"y":79},{"x":912,"y":91},{"x":922,"y":77},{"x":935,"y":65},{"x":950,"y":60},{"x":965,"y":57},{"x":984,"y":53},{"x":1000,"y":51},{"x":1015,"y":53},{"x":1030,"y":59},{"x":1040,"y":73},{"x":1046,"y":93},{"x":1052,"y":77},{"x":1065,"y":70},{"x":1078,"y":84},{"x":1088,"y":110},{"x":1096,"y":86},{"x":1103,"y":66},{"x":1110,"y":76},{"x":1116,"y":85},{"x":1124,"y":73},{"x":1135,"y":60},{"x":1150,"y":58},{"x":1170,"y":56},{"x":1190,"y":54},{"x":1210,"y":52},{"x":1230,"y":55},{"x":1250,"y":57},{"x":1265,"y":60},{"x":1280,"y":66},{"x":1294,"y":82},{"x":1302,"y":108},{"x":1310,"y":79},{"x":1320,"y":68},{"x":1330,"y":65},{"x":1345,"y":64},{"x":1360,"y":65},{"x":1375,"y":66},{"x":1390,"y":70},{"x":1400,"y":73},{"x":1410,"y":82},{"x":1420,"y":95},{"x":1428,"y":93},{"x":1436,"y":92},{"x":1444,"y":97},{"x":1451,"y":103},{"x":1458,"y":95},{"x":1467,"y":83},{"x":1480,"y":77},{"x":1495,"y":70},{"x":1510,"y":66},{"x":1530,"y":62},{"x":1550,"y":59},{"x":1570,"y":57},{"x":1590,"y":55},{"x":1610,"y":56},{"x":1630,"y":54},{"x":1650,"y":57},{"x":1670,"y":55},{"x":1690,"y":58},{"x":1710,"y":62},{"x":1724,"y":72},{"x":1734,"y":103},{"x":1744,"y":72},{"x":1756,"y":62},{"x":1770,"y":59},{"x":1790,"y":57},{"x":1815,"y":54},{"x":1840,"y":58},{"x":1865,"y":55},{"x":1890,"y":57},{"x":1915,"y":53},{"x":1940,"y":57},{"x":1965,"y":54},{"x":1990,"y":56},{"x":2015,"y":52},{"x":2040,"y":57},{"x":2065,"y":54},{"x":2090,"y":51},{"x":2115,"y":55},{"x":2140,"y":53},{"x":2165,"y":56},{"x":2190,"y":51},{"x":2215,"y":54},{"x":2240,"y":52},{"x":2265,"y":55},{"x":2290,"y":50},{"x":2315,"y":53},{"x":2340,"y":51},{"x":2365,"y":55},{"x":2390,"y":50},{"x":2415,"y":53},{"x":2440,"y":49},{"x":2465,"y":53},{"x":2490,"y":51},{"x":2515,"y":54},{"x":2540,"y":49},{"x":2565,"y":53},{"x":2590,"y":51},{"x":2615,"y":54},{"x":2640,"y":50},{"x":2665,"y":53},{"x":2690,"y":51},{"x":2715,"y":54},{"x":2740,"y":50},{"x":2765,"y":53},{"x":2790,"y":51},{"x":2810,"y":52},{"x":2830,"y":55},{"x":2850,"y":61},{"x":2864,"y":68},{"x":2880,"y":73},{"x":2895,"y":79},{"x":2914,"y":87},{"x":2923,"y":91},{"x":2932,"y":87},{"x":2945,"y":77},{"x":2960,"y":68},{"x":2980,"y":60},{"x":3000,"y":56},{"x":3025,"y":53},{"x":3050,"y":51},{"x":3075,"y":49},{"x":3100,"y":52}],
"b6":[{"x":500,"y":9},{"x":520,"y":13},{"x":540,"y":8},{"x":560,"y":12},{"x":580,"y":7},{"x":600,"y":11},{"x":620,"y":9},{"x":640,"y":13},{"x":660,"y":8},{"x":680,"y":11},{"x":698,"y":13},{"x":707,"y":16},{"x":715,"y":12},{"x":725,"y":10},{"x":740,"y":11},{"x":760,"y":13},{"x":780,"y":16},{"x":800,"y":19},{"x":820,"y":20},{"x":840,"y":21},{"x":860,"y":22},{"x":875,"y":23},{"x":890,"y":25},{"x":902,"y":28},{"x":912,"y":33},{"x":922,"y":25},{"x":935,"y":19},{"x":950,"y":15},{"x":965,"y":12},{"x":984,"y":10},{"x":1000,"y":8},{"x":1015,"y":10},{"x":1030,"y":15},{"x":1040,"y":23},{"x":1046,"y":36},{"x":1052,"y":26},{"x":1065,"y":20},{"x":1078,"y":30},{"x":1088,"y":48},{"x":1096,"y":33},{"x":1103,"y":20},{"x":1110,"y":28},{"x":1116,"y":35},{"x":1124,"y":26},{"x":1135,"y":16},{"x":1150,"y":14},{"x":1170,"y":13},{"x":1190,"y":11},{"x":1210,"y":12},{"x":1230,"y":13},{"x":1250,"y":14},{"x":1265,"y":16},{"x":1280,"y":20},{"x":1294,"y":30},{"x":1302,"y":48},{"x":1310,"y":29},{"x":1320,"y":22},{"x":1330,"y":21},{"x":1345,"y":22},{"x":1360,"y":22},{"x":1375,"y":23},{"x":1390,"y":25},{"x":1400,"y":27},{"x":1410,"y":31},{"x":1420,"y":36},{"x":1428,"y":35},{"x":1436,"y":38},{"x":1444,"y":42},{"x":1451,"y":45},{"x":1458,"y":37},{"x":1467,"y":28},{"x":1480,"y":25},{"x":1495,"y":21},{"x":1510,"y":18},{"x":1530,"y":16},{"x":1550,"y":14},{"x":1570,"y":12},{"x":1590,"y":10},{"x":1610,"y":12},{"x":1630,"y":10},{"x":1650,"y":12},{"x":1670,"y":10},{"x":1690,"y":12},{"x":1710,"y":15},{"x":1724,"y":23},{"x":1734,"y":45},{"x":1744,"y":23},{"x":1756,"y":15},{"x":1770,"y":13},{"x":1790,"y":12},{"x":1815,"y":10},{"x":1840,"y":14},{"x":1865,"y":11},{"x":1890,"y":13},{"x":1915,"y":9},{"x":1940,"y":14},{"x":1965,"y":11},{"x":1990,"y":13},{"x":2015,"y":9},{"x":2040,"y":14},{"x":2065,"y":11},{"x":2090,"y":8},{"x":2115,"y":12},{"x":2140,"y":10},{"x":2165,"y":14},{"x":2190,"y":9},{"x":2215,"y":12},{"x":2240,"y":10},{"x":2265,"y":13},{"x":2290,"y":8},{"x":2315,"y":12},{"x":2340,"y":10},{"x":2365,"y":14},{"x":2390,"y":9},{"x":2415,"y":12},{"x":2440,"y":8},{"x":2465,"y":12},{"x":2490,"y":10},{"x":2515,"y":13},{"x":2540,"y":8},{"x":2565,"y":12},{"x":2590,"y":10},{"x":2615,"y":13},{"x":2640,"y":9},{"x":2665,"y":12},{"x":2690,"y":10},{"x":2715,"y":13},{"x":2740,"y":9},{"x":2765,"y":12},{"x":2790,"y":10},{"x":2810,"y":11},{"x":2830,"y":13},{"x":2850,"y":18},{"x":2864,"y":28},{"x":2880,"y":29},{"x":2895,"y":33},{"x":2914,"y":40},{"x":2923,"y":43},{"x":2932,"y":40},{"x":2945,"y":31},{"x":2960,"y":24},{"x":2980,"y":17},{"x":3000,"y":14},{"x":3025,"y":12},{"x":3050,"y":10},{"x":3075,"y":9},{"x":3100,"y":11}]
},
"vconcat":[
{
"width":606,"height":445,
"view":{"stroke":"#000","strokeWidth":2},
"resolve":{"axis":{"x":"independent","y":"independent"}},
"layer":[
{"data":{"name":"a0"},"mark":{"type":"line","color":"#000000","strokeWidth":2},
"encoding":{
"x":{"field":"x","type":"quantitative","scale":{"domain":[500,3200],"nice":false,"zero":false},
"axis":{"orient":"bottom","values":[500,750,1000,1250,1500,1750,2000,2250,2500,2750,3000],"format":"d","labelExpr":"datum.value % 500 === 0 ? datum.label : ''","labelFontWeight":"bold","labelFontSize":26,"labelFlush":false,"labelOverlap":false,"tickSize":-8,"labelPadding":16,"title":"Raman Shift (cm⁻¹)","titleFontSize":36,"titlePadding":4}},
"y":{"field":"y","type":"quantitative","scale":{"domain":[0,445],"nice":false,"zero":false},
"axis":{"orient":"left","values":[20.2,52.9,85.5,118.2,150.8,183.5,216.1,248.8,281.4,314.1,346.7,379.4,412],"labels":false,"tickSize":-4,"title":"Intensity(a.u.)","titleFontSize":35,"titlePadding":20,"titleY":208}}}},
{"data":{"name":"a1"},"mark":{"type":"line","color":"#800000"},
"encoding":{
"x":{"field":"x","type":"quantitative","scale":{"domain":[500,3200],"nice":false,"zero":false},
"axis":{"orient":"top","values":[500,750,1000,1250,1500,1750,2000,2250,2500,2750,3000],"labels":false,"tickSize":-8,"title":null}},
"y":{"field":"y","type":"quantitative","scale":{"domain":[0,445],"nice":false,"zero":false},
"axis":{"orient":"right","values":[20.2,52.9,85.5,118.2,150.8,183.5,216.1,248.8,281.4,314.1,346.7,379.4,412],"labels":false,"tickSize":-4,"title":null}}}},
{"data":{"name":"a2"},"mark":{"type":"line","color":"#ff0000"},
"encoding":{"x":{"field":"x","type":"quantitative","scale":{"domain":[500,3200],"nice":false,"zero":false},"axis":null},"y":{"field":"y","type":"quantitative","scale":{"domain":[0,445],"nice":false,"zero":false},"axis":null}}},
{"data":{"name":"a3"},"mark":{"type":"line","color":"#ff0080"},
"encoding":{"x":{"field":"x","type":"quantitative","scale":{"domain":[500,3200],"nice":false,"zero":false},"axis":null},"y":{"field":"y","type":"quantitative","scale":{"domain":[0,445],"nice":false,"zero":false},"axis":null}}},
{"data":{"name":"a4"},"mark":{"type":"line","color":"#ff00ff"},
"encoding":{"x":{"field":"x","type":"quantitative","scale":{"domain":[500,3200],"nice":false,"zero":false},"axis":null},"y":{"field":"y","type":"quantitative","scale":{"domain":[0,445],"nice":false,"zero":false},"axis":null}}},
{"data":{"name":"a5"},"mark":{"type":"line","color":"#ff80ff"},
"encoding":{"x":{"field":"x","type":"quantitative","scale":{"domain":[500,3200],"nice":false,"zero":false},"axis":null},"y":{"field":"y","type":"quantitative","scale":{"domain":[0,445],"nice":false,"zero":false},"axis":null}}},
{"data":{"name":"a6"},"mark":{"type":"line","color":"#c0c0c0"},
"encoding":{"x":{"field":"x","type":"quantitative","scale":{"domain":[500,3200],"nice":false,"zero":false},"axis":null},"y":{"field":"y","type":"quantitative","scale":{"domain":[0,445],"nice":false,"zero":false},"axis":null}}},
{"data":{"values":[{"shift":860,"level":380},{"shift":963,"level":372},{"shift":1090,"level":354},{"shift":1300,"level":370},{"shift":1431,"level":365},{"shift":1724,"level":387},{"shift":2933,"level":352}]},
"mark":{"type":"text","angle":270,"align":"left","baseline":"middle","fontSize":24,"color":"#000"},
"encoding":{"x":{"field":"shift","type":"quantitative","scale":{"domain":[500,3200],"nice":false,"zero":false},"axis":null},"y":{"field":"level","type":"quantitative","scale":{"domain":[0,445],"nice":false,"zero":false},"axis":null},"text":{"field":"shift","type":"quantitative","format":"d"}}},
{"data":{"values":[{"label":"PBS bulk","shift":2380,"level":340},{"label":"0µm","shift":2380,"level":290},{"label":"-5µm","shift":2380,"level":237},{"label":"-10µm","shift":2380,"level":172},{"label":"-15µm","shift":2380,"level":122},{"label":"-20µm","shift":2380,"level":77},{"label":"-25µm","shift":2380,"level":35}]},
"mark":{"type":"text","align":"left","baseline":"middle","fontSize":26},
"encoding":{"x":{"field":"shift","type":"quantitative","scale":{"domain":[500,3200],"nice":false,"zero":false},"axis":null},"y":{"field":"level","type":"quantitative","scale":{"domain":[0,445],"nice":false,"zero":false},"axis":null},"text":{"field":"label","type":"nominal"},
"color":{"field":"label","type":"nominal","scale":{"domain":["PBS bulk","0µm","-5µm","-10µm","-15µm","-20µm","-25µm"],"range":["#000000","#800000","#ff0000","#ff0080","#ff00ff","#ff80ff","#808080"]},"legend":null}}},
{"data":{"values":[{"tag":"(a)","shift":491,"level":423}]},
"mark":{"type":"text","align":"right","baseline":"middle","fontSize":50,"color":"#000"},
"encoding":{"x":{"field":"shift","type":"quantitative","scale":{"domain":[500,3200],"nice":false,"zero":false},"axis":null},"y":{"field":"level","type":"quantitative","scale":{"domain":[0,445],"nice":false,"zero":false},"axis":null},"text":{"field":"tag","type":"nominal"}}}
]
},
{
"width":598,"height":427,
"resolve":{"axis":{"x":"independent","y":"independent"}},
"layer":[
{"data":{"name":"b0"},"mark":{"type":"line","color":"#000000","strokeWidth":2},
"encoding":{
"x":{"field":"x","type":"quantitative","scale":{"domain":[500,3100],"range":[8,598],"nice":false,"zero":false},
"axis":{"orient":"bottom","values":[500,750,1000,1250,1500,1750,2000,2250,2500,2750,3000],"format":"d","labelExpr":"datum.value % 500 === 0 ? datum.label : ''","labelFontWeight":"bold","labelFontSize":24,"labelFlush":false,"labelOverlap":false,"tickSize":-8,"labelPadding":23,"title":"Raman Shift (cm⁻¹)","titleFontSize":36,"titlePadding":10}},
"y":{"field":"y","type":"quantitative","scale":{"domain":[0,427],"nice":false,"zero":false},
"axis":{"orient":"left","offset":-8,"values":[4.9,22.5,40.1,57.7,75.3,92.9,110.5,128.1,145.7,163.3,180.9,198.5,216.1,233.7,251.3,268.9,286.5,304.1,321.7,339.3,356.9,374.5,392.1,409.7],"labels":false,"tickSize":-4,"title":"Intensity(a.u.)","titleFontSize":34,"titlePadding":13}}}},
{"data":{"name":"b1"},"mark":{"type":"line","color":"#000080"},
"encoding":{
"x":{"field":"x","type":"quantitative","scale":{"domain":[500,3100],"range":[8,598],"nice":false,"zero":false},
"axis":{"orient":"top","values":[500,750,1000,1250,1500,1750,2000,2250,2500,2750,3000],"labels":false,"tickSize":-8,"title":null}},
"y":{"field":"y","type":"quantitative","scale":{"domain":[0,427],"nice":false,"zero":false},
"axis":{"orient":"right","values":[4.9,22.5,40.1,57.7,75.3,92.9,110.5,128.1,145.7,163.3,180.9,198.5,216.1,233.7,251.3,268.9,286.5,304.1,321.7,339.3,356.9,374.5,392.1,409.7],"labels":false,"tickSize":-4,"title":null}}}},
{"data":{"name":"b2"},"mark":{"type":"line","color":"#00009c"},
"encoding":{"x":{"field":"x","type":"quantitative","scale":{"domain":[500,3100],"range":[8,598],"nice":false,"zero":false},"axis":null},"y":{"field":"y","type":"quantitative","scale":{"domain":[0,427],"nice":false,"zero":false},"axis":null}}},
{"data":{"name":"b3"},"mark":{"type":"line","color":"#0000ff"},
"encoding":{"x":{"field":"x","type":"quantitative","scale":{"domain":[500,3100],"range":[8,598],"nice":false,"zero":false},"axis":null},"y":{"field":"y","type":"quantitative","scale":{"domain":[0,427],"nice":false,"zero":false},"axis":null}}},
{"data":{"name":"b4"},"mark":{"type":"line","color":"#008080"},
"encoding":{"x":{"field":"x","type":"quantitative","scale":{"domain":[500,3100],"range":[8,598],"nice":false,"zero":false},"axis":null},"y":{"field":"y","type":"quantitative","scale":{"domain":[0,427],"nice":false,"zero":false},"axis":null}}},
{"data":{"name":"b5"},"mark":{"type":"line","color":"#80ffff"},
"encoding":{"x":{"field":"x","type":"quantitative","scale":{"domain":[500,3100],"range":[8,598],"nice":false,"zero":false},"axis":null},"y":{"field":"y","type":"quantitative","scale":{"domain":[0,427],"nice":false,"zero":false},"axis":null}}},
{"data":{"name":"b6"},"mark":{"type":"line","color":"#808080"},
"encoding":{"x":{"field":"x","type":"quantitative","scale":{"domain":[500,3100],"range":[8,598],"nice":false,"zero":false},"axis":null},"y":{"field":"y","type":"quantitative","scale":{"domain":[0,427],"nice":false,"zero":false},"axis":null}}},
{"data":{"values":[{"shift":707,"level":324},{"shift":912,"level":351},{"shift":1088,"level":372},{"shift":1302,"level":363},{"shift":1451,"level":363},{"shift":1734,"level":370},{"shift":2923,"level":350}]},
"mark":{"type":"text","angle":270,"align":"left","baseline":"middle","fontSize":27,"color":"#000"},
"encoding":{"x":{"field":"shift","type":"quantitative","scale":{"domain":[500,3100],"range":[8,598],"nice":false,"zero":false},"axis":null},"y":{"field":"level","type":"quantitative","scale":{"domain":[0,427],"nice":false,"zero":false},"axis":null},"text":{"field":"shift","type":"quantitative","format":"d"}}},
{"data":{"values":[{"label":"PBA bulk","shift":2133,"level":315},{"label":"0 µm","shift":2133,"level":266},{"label":"-5 µm","shift":2133,"level":218},{"label":"-10 µm","shift":2133,"level":171},{"label":"-15 µm","shift":2133,"level":120},{"label":"-20 µm","shift":2133,"level":73},{"label":"-25 µm","shift":2133,"level":33}]},
"mark":{"type":"text","align":"left","baseline":"middle","fontSize":29,"color":"#000"},
"encoding":{"x":{"field":"shift","type":"quantitative","scale":{"domain":[500,3100],"range":[8,598],"nice":false,"zero":false},"axis":null},"y":{"field":"level","type":"quantitative","scale":{"domain":[0,427],"nice":false,"zero":false},"axis":null},"text":{"field":"label","type":"nominal"}}},
{"data":{"values":[{"tag":"(b)","shift":491,"level":401}]},
"mark":{"type":"text","align":"right","baseline":"middle","fontSize":50,"color":"#000"},
"encoding":{"x":{"field":"shift","type":"quantitative","scale":{"domain":[500,3100],"range":[8,598],"nice":false,"zero":false},"axis":null},"y":{"field":"level","type":"quantitative","scale":{"domain":[0,427],"nice":false,"zero":false},"axis":null},"text":{"field":"tag","type":"nominal"}}}
]
}
]
}
